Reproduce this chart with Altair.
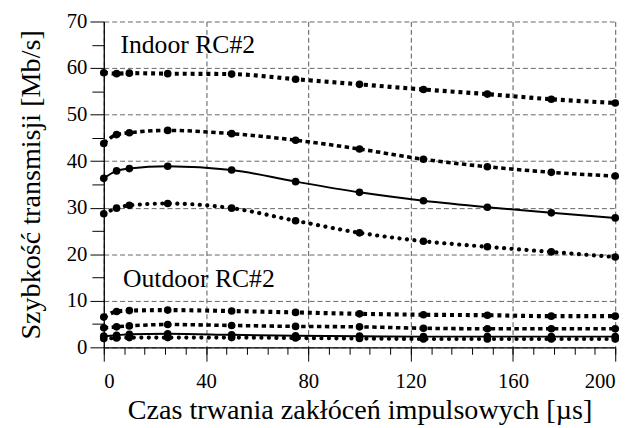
import altair as alt
import pandas as pd

# ---- data ----
x_us = [0, 5, 10, 25, 50, 75, 100, 125, 150, 175, 200]

indoor_x = [59.0, 58.8, 58.9, 58.8, 58.7, 57.6, 56.5, 55.4, 54.4, 53.3, 52.5]
indoor_plus = [43.8, 45.7, 46.1, 46.6, 45.9, 44.5, 42.6, 40.4, 38.8, 37.6, 36.8]
indoor_solid = [36.3, 37.9, 38.4, 38.9, 38.1, 35.6, 33.3, 31.5, 30.1, 28.9, 27.8]
indoor_dot = [28.7, 29.9, 30.5, 30.9, 29.9, 27.2, 24.6, 22.8, 21.6, 20.5, 19.4]

outdoor_x = [6.5, 7.7, 7.9, 8.0, 7.8, 7.5, 7.2, 7.0, 6.9, 6.7, 6.7]
outdoor_plus = [4.2, 4.4, 4.6, 4.9, 4.7, 4.5, 4.4, 4.1, 4.0, 4.0, 4.0]
outdoor_solid = [2.4, 2.6, 2.8, 2.9, 2.7, 2.5, 2.4, 2.3, 2.3, 2.3, 2.3]
outdoor_dot = [1.9, 2.0, 2.1, 2.1, 2.1, 2.0, 1.9, 1.8, 1.8, 1.8, 1.8]

x_major = [0, 40, 80, 120, 160, 200]
x_minor = list(range(0, 201, 8))
y_major = [0, 10, 20, 30, 40, 50, 60, 70]
y_minor = [5, 15, 25, 35, 45, 55, 65]

label_texts = ["Indoor RC#2", "Outdoor RC#2"]
label_x = [6.5, 7.5]
label_y = [63.2, 13.0]

series = [
    ("Indoor x", "x", indoor_x),
    ("Indoor +", "plus", indoor_plus),
    ("Indoor solid", "solid", indoor_solid),
    ("Indoor dot", "dot", indoor_dot),
    ("Outdoor x", "x", outdoor_x),
    ("Outdoor +", "plus", outdoor_plus),
    ("Outdoor solid", "solid", outdoor_solid),
    ("Outdoor dot", "dot", outdoor_dot),
]

rows = []
for name, style, vals in series:
    for xv, yv in zip(x_us, vals):
        rows.append({"series": name, "style": style, "t": xv, "v": yv})
df = pd.DataFrame(rows)
labels_df = pd.DataFrame({"t": label_x, "v": label_y, "text": label_texts})

FONT = "Liberation Serif, Times New Roman, serif"
xscale = alt.Scale(domain=[0, 200], nice=False, zero=False)
yscale = alt.Scale(domain=[0, 70], nice=False)

x_axis_major = alt.Axis(
    values=x_major, orient="bottom", grid=True, gridDash=[5, 3], gridColor="#555555",
    gridWidth=1, tickSize=14, tickColor="black", domainColor="black", domainWidth=1.3,
    labelFont=FONT, labelFontSize=21, labelColor="black", labelPadding=10,
    title="Czas trwania zakłóceń impulsowych [µs]", titleFont=FONT, titleFontSize=28.5,
    titleFontWeight="normal", titleColor="black", titleY=72, titleBaseline="alphabetic",
)
y_axis_major = alt.Axis(
    values=y_major, orient="left", grid=True, gridDash=[5, 3], gridColor="#666666",
    gridWidth=1, tickSize=14, tickColor="black", domainColor="black", domainWidth=1.3,
    labelFont=FONT, labelFontSize=21, labelColor="black", labelPadding=3,
    title="Szybkość transmisji [Mb/s]", titleFont=FONT, titleFontSize=28.5,
    titleFontWeight="normal", titleColor="black", titleX=-74, titleBaseline="middle",
)
x_axis_minor = alt.Axis(
    values=x_minor, orient="bottom", grid=False, domain=False, labels=False,
    tickSize=7, tickColor="black", title=None,
)
y_axis_minor = alt.Axis(
    values=y_minor, orient="left", grid=False, domain=False, labels=False,
    tickSize=12, tickColor="black", title=None,
)

styles = {
    "x": dict(strokeDash=[4, 4], strokeWidth=4.2),
    "plus": dict(strokeDash=[4.5, 3.5], strokeWidth=3.6),
    "solid": dict(strokeWidth=2),
    "dot": dict(strokeDash=[0.1, 7.5], strokeWidth=4.2, strokeCap="round"),
}

layers = []
first = True
for style, props in styles.items():
    sub = alt.Chart(df).transform_filter(alt.datum.style == style)
    if first:
        enc = dict(
            x=alt.X("t:Q", scale=xscale, axis=x_axis_major),
            y=alt.Y("v:Q", scale=yscale, axis=y_axis_major),
        )
        first = False
    else:
        enc = dict(
            x=alt.X("t:Q", scale=xscale, axis=None),
            y=alt.Y("v:Q", scale=yscale, axis=None),
        )
    layers.append(
        sub.mark_line(interpolate="monotone", color="black", **props).encode(
            detail="series:N", **enc
        )
    )

points = alt.Chart(df).mark_circle(size=60, color="black", opacity=1).encode(
    x=alt.X("t:Q", scale=xscale, axis=x_axis_minor),
    y=alt.Y("v:Q", scale=yscale, axis=y_axis_minor),
)
layers.append(points)

texts = alt.Chart(labels_df).mark_text(
    font=FONT, fontSize=26, align="left", baseline="alphabetic", color="black"
).encode(
    x=alt.X("t:Q", scale=xscale, axis=None),
    y=alt.Y("v:Q", scale=yscale, axis=None),
    text="text:N",
)
layers.append(texts)

chart = (
    alt.layer(*layers)
    .resolve_axis(x="independent", y="independent")
    .properties(
        width=518,
        height=330,
        padding={"left": 97, "top": 11, "right": 19, "bottom": 78},
        autosize=alt.AutoSizeParams(type="none"),
        background="white",
    )
    .configure_view(stroke=None)
)

chart.save("out.html", embed_options={"renderer": "svg", "actions": False})
